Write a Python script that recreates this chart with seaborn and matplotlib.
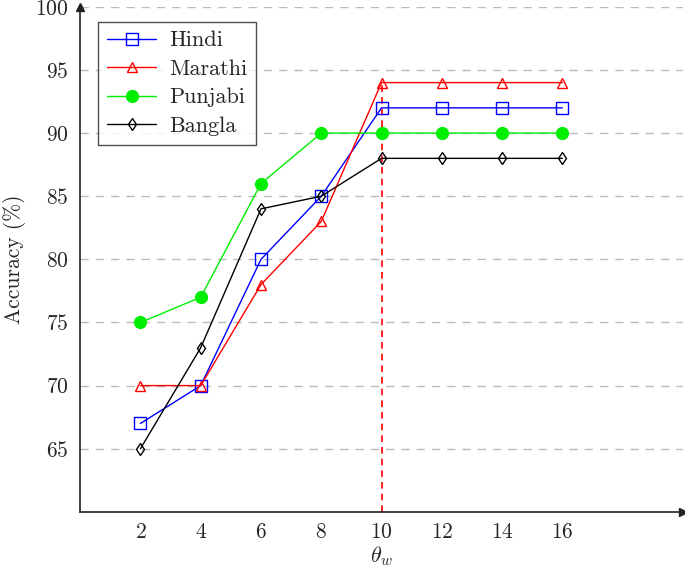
import numpy as np
import pandas as pd
import seaborn as sns
import matplotlib.pyplot as plt

theta = [2, 4, 6, 8, 10, 12, 14, 16]
hindi = [67, 70, 80, 85, 92, 92, 92, 92]
marathi = [70, 70, 78, 83, 94, 94, 94, 94]
punjabi = [75, 77, 86, 90, 90, 90, 90, 90]
bangla = [65, 73, 84, 85, 88, 88, 88, 88]
yticks = [65, 70, 75, 80, 85, 90, 95, 100]

sns.set_style("white")
plt.rcParams['font.family'] = ['cmr10', 'DejaVu Serif']
plt.rcParams['mathtext.fontset'] = 'cm'
plt.rcParams['axes.formatter.use_mathtext'] = True

fig = plt.figure(figsize=(6.85, 5.7), dpi=100)
ax = fig.add_axes([0.117, 0.102, 0.88, 0.886])

# series: (name, values, colour, marker, filled, marker size)
series = [("Hindi", hindi, "blue", "s", False, 8.5),
          ("Marathi", marathi, "red", "^", False, 6.5),
          ("Punjabi", punjabi, "#00ee00", "o", True, 8.5),
          ("Bangla", bangla, "black", "d", False, 6)]

for name, vals, col, mk, filled, ms in series:
    sns.lineplot(x=theta, y=vals, ax=ax, color=col, marker=mk, markersize=ms,
                 markerfacecolor=col if filled else "none", markeredgecolor=col,
                 markeredgewidth=1.0, linewidth=1.0, label=name, zorder=3)

ax.axvline(10, ymax=(94 - 60) / 40, color="red", linestyle=(0, (4, 3)), linewidth=1.2, zorder=2)

ax.set_xlim(0, 20)
ax.set_ylim(60, 100)
ax.set_xticks(theta)
ax.set_yticks(yticks)
ax.yaxis.grid(True, color="#bbbbbb", linestyle=(0, (6, 5)), linewidth=1.0)
ax.tick_params(axis="x", length=0, labelsize=15.5, pad=8)
ax.tick_params(axis="y", length=5, color="#bbbbbb", labelsize=15.5)

for s in ["top", "right"]:
    ax.spines[s].set_visible(False)
for s in ["left", "bottom"]:
    ax.spines[s].set_color("#222222")
    ax.spines[s].set_linewidth(1.2)
ax.plot(1, 0, ">", color="#222222", ms=6, transform=ax.transAxes, clip_on=False)
ax.plot(0, 1, "^", color="#222222", ms=6, transform=ax.transAxes, clip_on=False)

ax.set_xlabel(r"$\theta_w$", fontsize=16, labelpad=1)
ax.set_ylabel("Accuracy (%)", fontsize=15.5, labelpad=6)

leg = ax.legend(loc="upper left", bbox_to_anchor=(0.03, 0.97), borderaxespad=0,
                fontsize=16, frameon=True, fancybox=False, edgecolor="#222222",
                handlelength=2.2, borderpad=0.4, labelspacing=0.4, handletextpad=0.6)
leg.get_frame().set_linewidth(1.0)

fig.savefig("out.png", dpi=100)
